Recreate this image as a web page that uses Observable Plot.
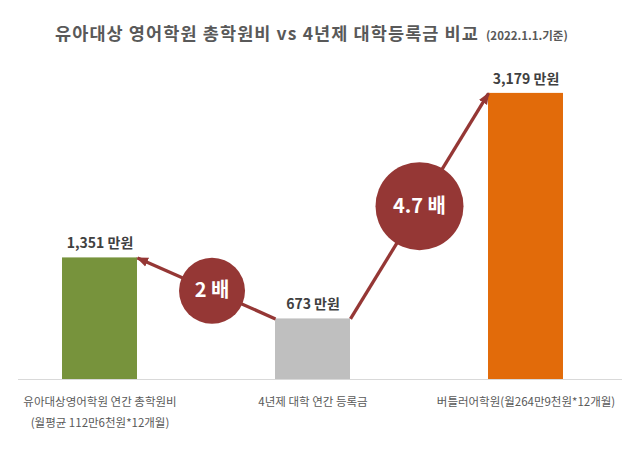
<!DOCTYPE html>
<html>
<head>
<meta charset="utf-8">
<script src="https://cdn.jsdelivr.net/npm/d3@7"></script>
<script src="https://cdn.jsdelivr.net/npm/@observablehq/plot@0.6"></script>
<style>
  html, body { margin: 0; padding: 0; background: #fff; }
  #wrap { position: relative; width: 640px; height: 454px; font-family: "Noto Sans CJK KR", sans-serif; }
  #title { position: absolute; left: 55px; top: 22px; white-space: nowrap; color: #595959; font-weight: bold; line-height: 22px; }
  #title .main { font-size: 17.5px; letter-spacing: 1.1px; }
  #title .sub { font-size: 11.5px; margin-left: 7px; }
  #chart { position: absolute; left: 0; top: 0; }
  g[aria-label="category"] text { letter-spacing: -1px; }
</style>
</head>
<body>
<div id="wrap">
  <div id="chart"></div>
  <div id="title"><span class="main">유아대상 영어학원 총학원비 vs 4년제 대학등록금 비교</span><span class="sub">(2022.1.1.기준)</span></div>
</div>
<script>
// ---- data ----
const categories = [
  "유아대상영어학원 연간 총학원비\n(월평균 112만6천원*12개월)",
  "4년제 대학 연간 등록금",
  "버틀러어학원(월264만9천원*12개월)"
];
const values = [1351, 673, 3179];          // 만원
const valueLabels = ["1,351 만원", "673 만원", "3,179 만원"];
const ratioFrom = [1, 1];                  // index of base category
const ratioTo = [0, 2];                    // index of compared category
const ratioLabels = ["2 배", "4.7 배"];

// ---- styles ----
const barColors = ["#77933C", "#BFBFBF", "#E26B0A"];
const badgeColor = "#953735";
const badgeRadius = [33, 44];
const badgeAlong = [0.46, 0.5];  // badge position along each arrow
const HW = 0.176; // half bar width in category units

const bars = categories.map((c, i) => ({i, category: c, value: values[i], label: valueLabels[i], color: barColors[i]}));
const arrows = ratioFrom.map((f, k) => {
  const t = ratioTo[k];
  const s = Math.sign(t - f);
  return {
    x1: f + s * HW, y1: values[f],
    x2: t - s * HW, y2: values[t],
    label: ratioLabels[k], r: badgeRadius[k], a: badgeAlong[k]
  };
});
const bx = d => d.x1 + (d.x2 - d.x1) * d.a;
const by = d => d.y1 + (d.y2 - d.y1) * d.a;

const svg = Plot.plot({
  width: 640,
  height: 454,
  marginTop: 64,
  marginBottom: 75,
  marginLeft: 18,
  marginRight: 18,
  style: {fontFamily: "'Noto Sans CJK KR', sans-serif", background: "transparent", overflow: "visible"},
  x: {type: "linear", domain: [0, 2], range: [99.5, 525.5], axis: null},
  y: {domain: [0, 3500], axis: null},
  color: {type: "identity"},
  r: {type: "identity"},
  marks: [
    Plot.ruleY([0], {stroke: "#D9D9D9", strokeWidth: 1}),
    Plot.rectY(bars, {x1: d => d.i - HW, x2: d => d.i + HW, y: "value", fill: "color"}),
    Plot.text(bars, {x: "i", y: "value", text: "label", dy: -14, fontSize: 14, fontWeight: "bold", fill: "#404040"}),
    Plot.text(bars, {x: "i", y: 0, text: "category", lineAnchor: "top", dy: 11, fontSize: 11.5, lineHeight: 1.87, fill: "#595959", ariaLabel: "category"}),
    Plot.link(arrows, {x1: "x1", y1: "y1", x2: "x2", y2: "y2", stroke: badgeColor, strokeWidth: 3.3, markerEnd: "arrow", ariaLabel: "arrows"}),
    Plot.dot(arrows, {x: bx, y: by, r: "r", fill: badgeColor, stroke: "none"}),
    Plot.text(arrows, {x: bx, y: by, text: "label", fontSize: 20, fontWeight: "bold", fill: "white"})
  ]
});

// turn Plot's open arrow markers into filled triangular heads
svg.querySelectorAll("marker").forEach(m => {
  m.setAttribute("viewBox", "-5 -5 10 10");
  m.setAttribute("markerWidth", "4");
  m.setAttribute("markerHeight", "4");
  m.setAttribute("refX", "3");
  m.setAttribute("refY", "0");
  m.setAttribute("fill", badgeColor);
  m.setAttribute("stroke", "none");
  const p = m.querySelector("path");
  if (p) p.setAttribute("d", "M-5,-3.6L4,0L-5,3.6Z");
});

document.getElementById("chart").appendChild(svg);
</script>
</body>
</html>
